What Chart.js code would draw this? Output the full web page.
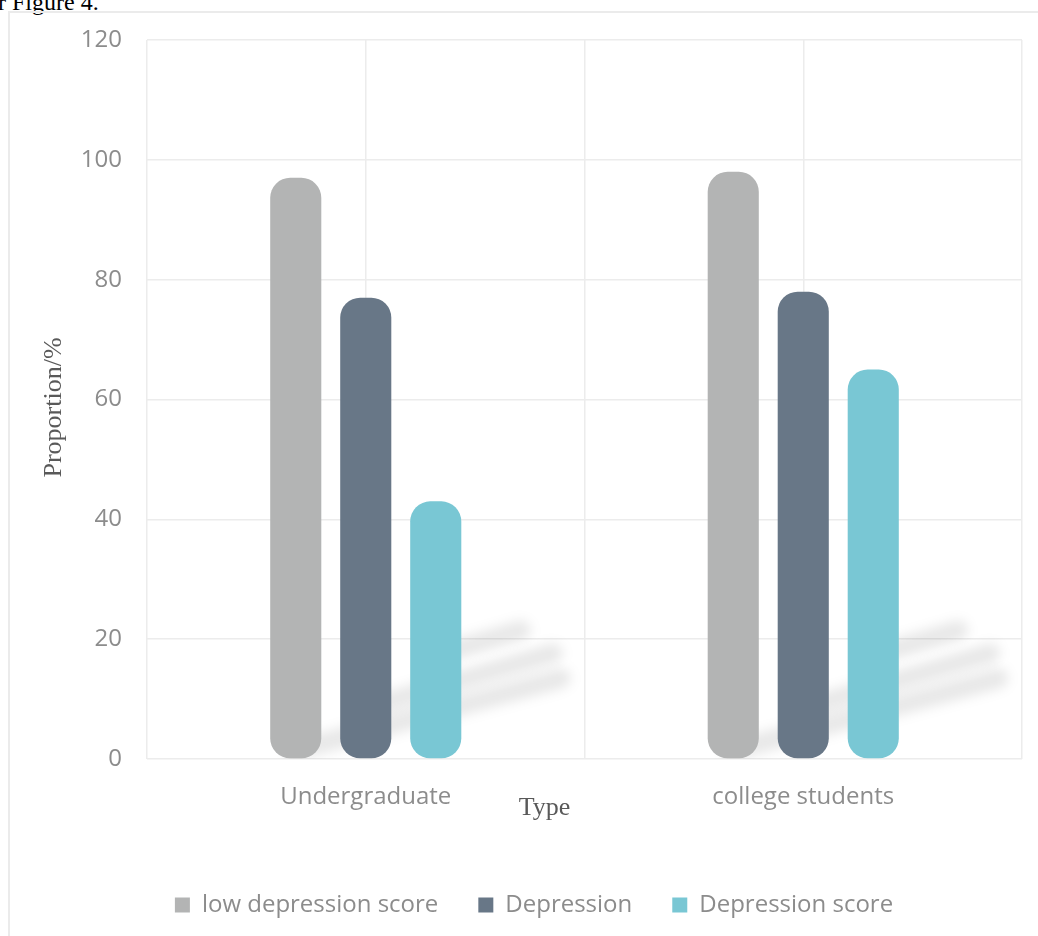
<!DOCTYPE html>
<html><head><meta charset="utf-8">
<script src="https://cdn.jsdelivr.net/npm/chart.js@4.4.0/dist/chart.umd.min.js"></script>
<style>
html,body{margin:0;padding:0;background:#fff;width:1038px;height:936px;overflow:hidden;}
#cap{position:absolute;left:-2px;top:-10px;font:24px "Liberation Serif",serif;color:#000;line-height:24px;white-space:nowrap;}
#frame{position:absolute;left:8px;top:11px;width:1030px;height:925px;border-left:2px solid #ebebeb;border-top:2px solid #ebebeb;box-sizing:border-box;}
#wrap{position:absolute;left:10px;top:13px;width:1028px;height:923px;}
canvas{display:block;}
</style></head><body>
<div id="cap">r Figure 4.</div>
<div id="frame"></div>
<div id="wrap"><canvas id="c"></canvas></div>
<script>
const categories = ['Undergraduate', 'college students'];
const seriesNames = ['low depression score', 'Depression', 'Depression score'];
const lowDepressionScore = [97, 98];
const depression = [77, 78];
const depressionScore = [43, 65];
const seriesColors = ['#b3b4b4', '#687787', '#79c7d4'];
const yMin = 0, yMax = 120, yStep = 20;
const xAxisTitle = 'Type';
const yAxisTitle = 'Proportion/%';
// slots for the vertical grid lines (category centres and edges)
const verticalGridSlots = ['', '', '', '', ''];

const tickColor = '#8c8c8c';
const gridColor = '#ececec';
const titleColor = '#595959';
const sansFont = '"Open Sans", "Noto Sans", sans-serif';
const serifFont = '"Liberation Serif", "DejaVu Serif", serif';

// decorative soft shadow streaks (style only): start lift, end dx, end dy in px, per series
const shadowStyle = [
  { lift: 0, dx: 265, dy: 72 },
  { lift: 42, dx: 187, dy: 97 },
  { lift: 95, dx: 85, dy: 120 }
];

const barShadows = {
  id: 'barShadows',
  beforeDatasetsDraw(chart) {
    const ctx = chart.ctx, a = chart.chartArea;
    ctx.save();
    ctx.beginPath();
    ctx.rect(a.left, a.top, a.right - a.left, a.bottom - a.top);
    ctx.clip();
    ctx.filter = 'blur(6px)';
    ctx.strokeStyle = 'rgba(0,0,0,0.09)';
    ctx.lineWidth = 20;
    ctx.lineCap = 'round';
    chart.data.datasets.forEach((ds, di) => {
      const st = shadowStyle[di];
      chart.getDatasetMeta(di).data.forEach(bar => {
        ctx.beginPath();
        ctx.moveTo(bar.x, bar.base - 8 - st.lift);
        ctx.lineTo(bar.x + st.dx, bar.base - 8 - st.dy);
        ctx.stroke();
      });
    });
    ctx.restore();
  }
};

const axisTitles = {
  id: 'axisTitles',
  afterDraw(chart) {
    const ctx = chart.ctx, a = chart.chartArea;
    ctx.save();
    ctx.font = '26px ' + serifFont;
    ctx.fillStyle = titleColor;
    ctx.textAlign = 'center';
    ctx.textBaseline = 'alphabetic';
    ctx.fillText(xAxisTitle, (a.left + a.right) / 2 - 40, a.bottom + 56);
    ctx.translate(a.left - 86, (a.top + a.bottom) / 2 + 8);
    ctx.rotate(-Math.PI / 2);
    ctx.fillText(yAxisTitle, 0, 0);
    ctx.restore();
  }
};

const barCommon = {
  borderRadius: 20,
  borderSkipped: false,
  categoryPercentage: 0.48,
  barPercentage: 0.73
};

new Chart(document.getElementById('c'), {
  type: 'bar',
  data: {
    labels: categories,
    datasets: [
      Object.assign({ label: seriesNames[0], data: lowDepressionScore, backgroundColor: seriesColors[0] }, barCommon),
      Object.assign({ label: seriesNames[1], data: depression, backgroundColor: seriesColors[1] }, barCommon),
      Object.assign({ label: seriesNames[2], data: depressionScore, backgroundColor: seriesColors[2] }, barCommon)
    ]
  },
  options: {
    responsive: true,
    maintainAspectRatio: false,
    animation: false,
    layout: { padding: { top: 27, right: 16, bottom: 9, left: 36 } },
    plugins: {
      tooltip: { enabled: false },
      legend: {
        position: 'bottom',
        labels: {
          color: tickColor,
          font: { family: sansFont, size: 24 },
          boxWidth: 15,
          boxHeight: 15,
          padding: 40
        }
      }
    },
    scales: {
      x: {
        grid: { display: false },
        border: { display: false },
        ticks: { color: tickColor, font: { family: sansFont, size: 24 }, padding: 16 },
        afterFit(s) { s.height = 94; s.paddingLeft = 0; s.paddingRight = 0; }
      },
      x2: {
        type: 'category',
        labels: verticalGridSlots,
        position: 'bottom',
        offset: false,
        ticks: { display: false },
        grid: { color: gridColor, lineWidth: 1.5, drawTicks: false, offset: false },
        border: { display: false },
        afterFit(s) { s.height = 0; s.paddingLeft = 0; s.paddingRight = 0; }
      },
      y: {
        min: yMin, max: yMax,
        ticks: { stepSize: yStep, color: tickColor, font: { family: sansFont, size: 24 }, padding: 25 },
        grid: { color: gridColor, lineWidth: 1.5, drawTicks: false },
        border: { display: false },
        title: { display: false, text: yAxisTitle },
        afterFit(s) { s.width = 101; s.paddingTop = 0; s.paddingBottom = 0; }
      }
    }
  },
  plugins: [barShadows, axisTitles]
});
</script>
</body></html>
